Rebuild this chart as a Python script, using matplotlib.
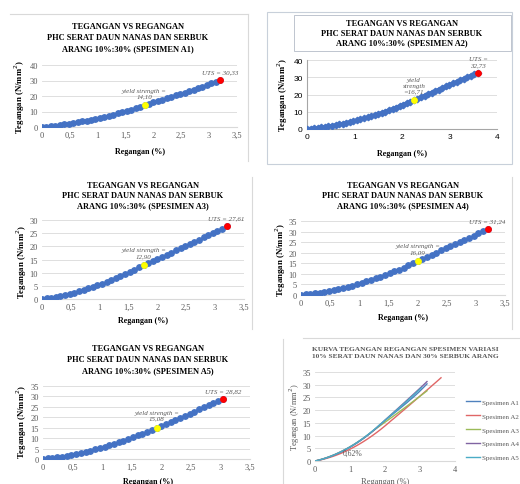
import matplotlib
matplotlib.use("Agg")
import matplotlib.pyplot as plt
from matplotlib.lines import Line2D
from matplotlib.patches import Rectangle

W, H = 520, 485
SERIF = ["Liberation Serif", "DejaVu Serif"]
GRAY = "#595959"
BLUE = "#4472C4"

# strain (%) of the dotted series, shared by A1, A3, A4, A5
STRAIN = [0.00, 0.08, 0.16, 0.24, 0.32, 0.40, 0.48, 0.56, 0.64, 0.72,
          0.80, 0.88, 0.96, 1.04, 1.12, 1.20, 1.28, 1.36, 1.44, 1.52,
          1.60, 1.68, 1.76, 1.84, 1.92, 2.00, 2.08, 2.16, 2.24, 2.32,
          2.40, 2.48, 2.56, 2.64, 2.72, 2.80, 2.88, 2.96, 3.04, 3.12, 3.20]

STRESS_A1 = [0.00, 0.27, 0.57, 0.91, 1.27, 1.66, 2.09, 2.54, 3.03, 3.55,
             4.10, 4.68, 5.28, 5.92, 6.59, 7.30, 8.03, 8.79, 9.58, 10.41,
             11.26, 12.15, 13.06, 14.10, 15.00, 15.90, 16.80, 17.70, 18.60, 19.50,
             20.40, 21.30, 22.20, 23.10, 24.10, 25.00, 26.00, 27.00, 28.10, 29.20, 30.33]
STRESS_A3 = [0.00, 0.26, 0.54, 0.86, 1.22, 1.60, 2.02, 2.46, 2.94, 3.46,
             4.00, 4.58, 5.18, 5.82, 6.50, 7.20, 7.94, 8.70, 9.50, 10.34,
             11.20, 12.10, 12.90, 13.68, 14.46, 15.25, 16.04, 16.84, 17.64, 18.45,
             19.26, 20.08, 20.90, 21.72, 22.55, 23.38, 24.22, 25.06, 25.90, 26.75, 27.61]
STRESS_A4 = [0.00, 0.24, 0.51, 0.82, 1.16, 1.54, 1.94, 2.38, 2.86, 3.36,
             3.90, 4.48, 5.08, 5.72, 6.40, 7.10, 7.84, 8.62, 9.42, 10.26,
             11.14, 12.04, 12.98, 13.96, 14.96, 16.09, 17.08, 18.07, 19.06, 20.05,
             21.05, 22.05, 23.05, 24.06, 25.07, 26.08, 27.10, 28.12, 29.14, 30.18, 31.24]
STRESS_A5 = [0.00, 0.25, 0.53, 0.85, 1.19, 1.58, 1.99, 2.44, 2.92, 3.44,
             3.98, 4.57, 5.18, 5.83, 6.51, 7.22, 7.97, 8.75, 9.57, 10.42,
             11.30, 12.21, 13.16, 14.14, 15.08, 16.02, 16.97, 17.92, 18.88, 19.84,
             20.81, 21.78, 22.76, 23.74, 24.73, 25.73, 26.74, 27.77, 28.82]

# A2 was logged more densely
STRAIN_A2 = [0.000, 0.075, 0.150, 0.225, 0.300, 0.375, 0.450, 0.525, 0.600, 0.675,
             0.750, 0.825, 0.900, 0.975, 1.050, 1.125, 1.200, 1.275, 1.350, 1.425,
             1.500, 1.575, 1.650, 1.725, 1.800, 1.875, 1.950, 2.025, 2.100, 2.175,
             2.250, 2.325, 2.400, 2.475, 2.550, 2.625, 2.700, 2.775, 2.850, 2.925,
             3.000, 3.075, 3.150, 3.225, 3.300, 3.375, 3.450, 3.525, 3.600]
STRESS_A2 = [0.00, 0.19, 0.41, 0.65, 0.92, 1.22, 1.54, 1.88, 2.25, 2.65,
             3.07, 3.51, 3.98, 4.48, 5.00, 5.55, 6.12, 6.72, 7.34, 7.99,
             8.66, 9.36, 10.09, 10.84, 11.61, 12.41, 13.24, 14.09, 14.96, 15.86,
             16.71, 17.58, 18.45, 19.33, 20.21, 21.09, 21.97, 22.86, 23.75, 24.64,
             25.53, 26.42, 27.31, 28.20, 29.10, 30.00, 30.90, 31.81, 32.73]

# (yield strain, yield stress, UTS strain, UTS stress)
KEY_A1 = (1.84, 14.10, 3.20, 30.33)
KEY_A2 = (2.25, 16.71, 3.60, 32.73)
KEY_A3 = (1.76, 12.90, 3.20, 27.61)
KEY_A4 = (2.00, 16.09, 3.20, 31.24)
KEY_A5 = (1.92, 15.08, 3.04, 28.82)

YIELD_TXT = ["yield strength =\n14,10", "yield\nstrength\n=16,71",
             "yield strength =\n12,90", "yield strength =\n16,09",
             "yield strength =\n15,08"]
UTS_TXT = ["UTS = 30,33", "UTS =\n32,73", "UTS = 27,61", "UTS = 31,24", "UTS = 28,82"]

X_TICKS_35 = [0, 0.5, 1, 1.5, 2, 2.5, 3, 3.5]
X_LABELS_35 = ["0", "0,5", "1", "1,5", "2", "2,5", "3", "3,5"]

LEGEND = ["Spesimen A1", "Spesimen A2", "Spesimen A3", "Spesimen A4", "Spesimen A5"]
LINE_COLORS = ["#4F81BD", "#E06666", "#9BBB59", "#8064A2", "#4BACC6"]

TITLE = "TEGANGAN VS REGANGAN\nPHC SERAT DAUN NANAS DAN SERBUK\nARANG 10%:30% (SPESIMEN {})"
YLAB = "Tegangan (N/mm$^2$)"
XLAB = "Regangan (%)"

fig = plt.figure(figsize=(W / 100, H / 100), dpi=100)


def px_axes(x0, y0, x1, y1):
    return fig.add_axes([x0 / W, 1 - y1 / H, (x1 - x0) / W, (y1 - y0) / H])


def ftext(x, y, s, **kw):
    fig.text(x / W, 1 - y / H, s, **kw)


def fline(x0, y0, x1, y1, color="#D9D9D9"):
    fig.add_artist(Line2D([x0 / W, x1 / W], [1 - y0 / H, 1 - y1 / H],
                          color=color, lw=0.8, transform=fig.transFigure))


def style(ax, xt, xl, ymax, ystep, tickfont=SERIF, tickcolor=GRAY):
    ax.set_xlim(0, xt[-1])
    ax.set_ylim(0, ymax)
    ax.set_xticks(xt, xl)
    ax.set_yticks(range(0, ymax + 1, ystep))
    ax.tick_params(length=0, pad=3, labelsize=6, labelcolor=tickcolor)
    for lab in ax.get_xticklabels() + ax.get_yticklabels():
        lab.set_family(tickfont)
    ax.yaxis.grid(True, color="#D9D9D9", lw=0.6)
    ax.set_axisbelow(True)
    for s in ("top", "right", "left"):
        ax.spines[s].set_visible(False)
    ax.spines["bottom"].set_color("#D9D9D9")
    ax.patch.set_alpha(0)


def dots(ax, xs, ys, key, ytxt, utxt, ms=3.9, dense=False):
    if dense:
        ax.plot(xs, ys, color=BLUE, lw=2.8, marker="D", ms=3.3, zorder=3)
    else:
        ax.plot(xs, ys, ls="none", color=BLUE, marker="o", ms=ms, zorder=3)
    ax.plot(key[0], key[1], "o", color="#FFFF00", ms=ms, zorder=4)
    ax.plot(key[2], key[3], "o", color="#FF0000", ms=ms, zorder=4)
    ax.annotate(ytxt, (key[0], key[1]), xytext=(0, 5), textcoords="offset points",
                ha="center", va="bottom", fontsize=5.0, style="italic",
                color=GRAY, family=SERIF, linespacing=1.15)
    ax.annotate(utxt, (key[2], key[3]), xytext=(0, 4), textcoords="offset points",
                ha="center", va="bottom", fontsize=5.0, style="italic",
                color=GRAY, family=SERIF, linespacing=1.15)


def labels(title, tx, ty, yx, yy, xx, xy, spacing=1.35):
    ftext(tx, ty, title, ha="center", va="center", fontsize=6.0,
          weight="bold", family=SERIF, linespacing=spacing)
    ftext(yx, yy, YLAB, ha="center", va="center", rotation=90, fontsize=6.3,
          weight="bold", family=SERIF)
    ftext(xx, xy, XLAB, ha="center", va="center", fontsize=5.8,
          weight="bold", family=SERIF)


# --- A1
ax = px_axes(42, 66, 237, 128)
style(ax, X_TICKS_35, X_LABELS_35, 40, 10)
dots(ax, STRAIN, STRESS_A1, KEY_A1, YIELD_TXT[0], UTS_TXT[0])
labels(TITLE.format("A1"), 128, 38, 20, 97, 140, 152, spacing=1.5)
fline(10, 15, 248, 15)
fline(248, 15, 248, 162)

# --- A2
ax = px_axes(307, 61, 497, 130)
style(ax, [0, 1, 2, 3, 4], ["0", "1", "2", "3", "4"], 40, 10,
      tickfont=["Liberation Sans", "DejaVu Sans"], tickcolor="#000000")
ax.spines["left"].set_visible(True)
ax.spines["left"].set_color("#A6A6A6")
ax.spines["bottom"].set_color("#A6A6A6")
dots(ax, STRAIN_A2, STRESS_A2, KEY_A2, YIELD_TXT[1], UTS_TXT[1], dense=True)
labels(TITLE.format("A2"), 402, 34, 283, 95, 402, 154, spacing=1.25)
fig.add_artist(Rectangle((294 / W, 1 - 52 / H), 217 / W, 36 / H, fill=False,
                         ec="#B4BCC8", lw=0.6, transform=fig.transFigure))
fig.add_artist(Rectangle((267 / W, 1 - 165 / H), 245 / W, 152 / H, fill=False,
                         ec="#C8D0DA", lw=0.8, transform=fig.transFigure))

# --- A3
ax = px_axes(42, 221, 244, 300)
style(ax, X_TICKS_35, X_LABELS_35, 30, 5)
dots(ax, STRAIN, STRESS_A3, KEY_A3, YIELD_TXT[2], UTS_TXT[2])
labels(TITLE.format("A3"), 143, 196, 22, 262, 143, 321)
fline(252, 178, 252, 330)

# --- A4
ax = px_axes(301, 222, 505, 296)
style(ax, X_TICKS_35, X_LABELS_35, 35, 5)
dots(ax, STRAIN, STRESS_A4, KEY_A4, YIELD_TXT[3], UTS_TXT[3])
labels(TITLE.format("A4"), 403, 196, 281, 260, 403, 318)
fline(512, 178, 512, 330)

# --- A5
ax = px_axes(43, 387, 250, 460)
style(ax, X_TICKS_35, X_LABELS_35, 35, 5)
dots(ax, STRAIN[:len(STRESS_A5)], STRESS_A5, KEY_A5, YIELD_TXT[4], UTS_TXT[4])
labels(TITLE.format("A5"), 148, 360, 22, 422, 148, 482, spacing=1.45)

# --- combined
ax = px_axes(315, 373, 455, 462)
style(ax, [0, 1, 2, 3, 4], ["0", "1", "2", "3", "4"], 35, 5)
series = [(STRAIN, STRESS_A1), (STRAIN_A2, STRESS_A2), (STRAIN, STRESS_A3),
          (STRAIN, STRESS_A4), (STRAIN[:len(STRESS_A5)], STRESS_A5)]
handles = []
for (xs, ys), c, name in zip(series, LINE_COLORS, LEGEND):
    h, = ax.plot(xs, ys, color=c, lw=1.0, label=name)
    handles.append(h)
ax.text(0.8, 2.6, "0,62%", fontsize=5.5, color=GRAY, family=SERIF)
ftext(405, 353, "KURVA TEGANGAN REGANGAN SPESIMEN VARIASI\n10% SERAT DAUN NANAS DAN 30% SERBUK ARANG",
      ha="center", va="center", fontsize=5.3, weight="bold", color=GRAY,
      family=SERIF, linespacing=1.3)
ftext(295, 417, YLAB, ha="center", va="center", rotation=90, fontsize=6,
      color=GRAY, family=SERIF)
ftext(385, 482, XLAB, ha="center", va="center", fontsize=6, color=GRAY, family=SERIF)
fig.legend(handles, LEGEND, loc="upper left", bbox_to_anchor=(466 / W, 1 - 400 / H),
           frameon=False, prop={"family": SERIF, "size": 5.0}, labelcolor=GRAY,
           handlelength=2.0, handletextpad=0.3, labelspacing=1.15, borderpad=0,
           borderaxespad=0)
fline(303, 339, 520, 339)
fline(283, 340, 283, 485)

fig.savefig("out.png", dpi=100)
